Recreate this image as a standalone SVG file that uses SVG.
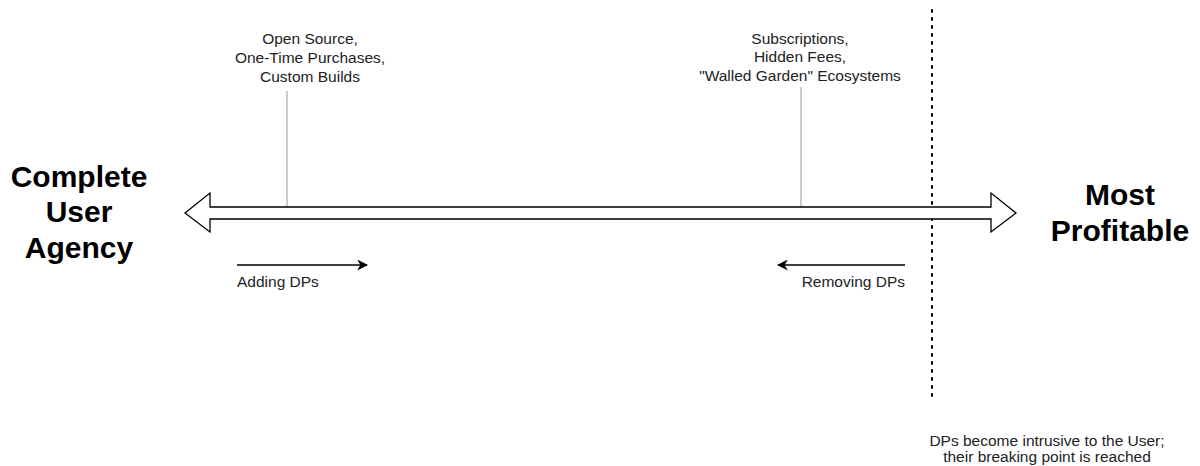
<svg xmlns="http://www.w3.org/2000/svg" width="1200" height="466" viewBox="0 0 1200 466">
<style>
.big{font-family:"Liberation Sans",Arial,sans-serif;font-size:30px;font-weight:bold;fill:#000;text-anchor:middle}
.sm{font-family:"Liberation Sans",Arial,sans-serif;font-size:15.5px;fill:#222}
.mid{text-anchor:middle}
.tick{stroke:#b3b3b3;stroke-width:1.3;fill:none}
</style>
<defs>
<marker id="ah" viewBox="0 0 10 10" refX="9" refY="5" markerWidth="11" markerHeight="11" markerUnits="userSpaceOnUse" orient="auto">
<path d="M0,0 L10,5 L0,10 L3,5 Z" fill="#000"/>
</marker>
</defs>
<g id="connectors">
<line class="tick" x1="287" y1="91" x2="287" y2="207"/>
<line class="tick" x1="801" y1="87" x2="801" y2="207"/>
<line x1="932" y1="10" x2="932" y2="396" stroke="#000" stroke-width="2" stroke-dasharray="2 6" stroke-linecap="round"/>
<line x1="237" y1="265" x2="367" y2="265" stroke="#000" stroke-width="1.3" marker-end="url(#ah)"/>
<line x1="905" y1="265" x2="778" y2="265" stroke="#000" stroke-width="1.3" marker-end="url(#ah)"/>
</g>
<g id="spectrum">
<path d="M185,213 L210,193 L210,207 L991,207 L991,193 L1016,213 L991,232 L991,219 L210,219 L210,232 Z" fill="#fff" stroke="#000" stroke-width="1.3" stroke-linejoin="miter"/>
</g>
<g id="left-label">
<text class="big" x="79" y="187">Complete</text>
<text class="big" x="79" y="222">User</text>
<text class="big" x="79" y="258">Agency</text>
</g>
<g id="right-label">
<text class="big" x="1120" y="205">Most</text>
<text class="big" x="1120" y="241">Profitable</text>
</g>
<g id="left-note">
<text class="sm mid" x="310" y="44">Open Source,</text>
<text class="sm mid" x="310" y="63">One-Time Purchases,</text>
<text class="sm mid" x="310" y="82">Custom Builds</text>
</g>
<g id="right-note">
<text class="sm mid" x="800" y="44">Subscriptions,</text>
<text class="sm mid" x="800" y="62">Hidden Fees,</text>
<text class="sm mid" x="800" y="81">"Walled Garden" Ecosystems</text>
</g>
<g id="adding">
<text class="sm" x="237" y="287">Adding DPs</text>
</g>
<g id="removing">
<text class="sm" x="905" y="287" text-anchor="end">Removing DPs</text>
</g>
<g id="breaking-point">
<text class="sm mid" x="1047" y="446">DPs become intrusive to the User;</text>
<text class="sm mid" x="1047" y="462">their breaking point is reached</text>
</g>
</svg>
